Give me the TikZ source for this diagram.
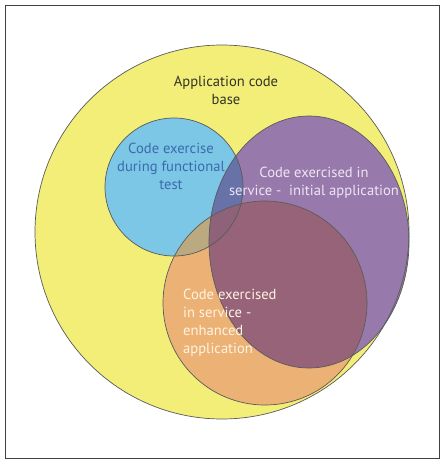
\documentclass[tikz,border=0pt]{standalone}
\usepackage{fontspec}
\setmainfont{PT Sans}
\definecolor{yellowc}{HTML}{F2EE78}
\definecolor{bluec}{HTML}{7CC6E6}
\definecolor{purplec}{HTML}{977AAB}
\definecolor{orangec}{HTML}{EBB175}
\definecolor{bpc}{HTML}{6672A8}
\definecolor{boc}{HTML}{BBAA80}
\definecolor{poc}{HTML}{966378}
\definecolor{bpoc}{HTML}{8E6379}
\definecolor{edgec}{HTML}{5A5A5A}
\definecolor{btext}{HTML}{3B6BAE}
\definecolor{ytext}{HTML}{333326}
\definecolor{ptext}{HTML}{EEE4F3}
\definecolor{otext}{HTML}{FFF4E2}
\begin{document}
\begin{tikzpicture}[x=1pt,y=-1pt,
  outline/.style={draw=edgec,line width=0.7pt},
  lbl/.style={font=\fontsize{14.6}{18}\selectfont,inner sep=0pt}]
\useasboundingbox (0,0) rectangle (445,464);
\def\yel{(222,232) circle[radius=187]}
\def\blu{(174,187) circle[radius=69]}
\def\pur{(309,242) ellipse[x radius=100,y radius=126]}
\def\ora{(265,303) circle[radius=102]}
\draw[draw=black!75,line width=1pt] (5,5) rectangle (439,458);
\fill[yellowc] \yel;
\fill[bluec] \blu;
\fill[purplec] \pur;
\fill[orangec] \ora;
\begin{scope}\clip \blu; \fill[bpc] \pur; \end{scope}
\begin{scope}\clip \blu; \fill[boc] \ora; \end{scope}
\begin{scope}\clip \pur; \fill[poc] \ora; \end{scope}
\begin{scope}\clip \blu; \clip \pur; \fill[bpoc] \ora; \end{scope}
\draw[outline] \yel;
\draw[outline] \blu;
\draw[outline] \pur;
\draw[outline] \ora;
\node[lbl,text=ytext,align=center] (base) at (226,90) {Application code\\base};
\node[lbl,text=btext,align=center] (func) at (171,166) {Code exercise\\during functional\\test};
\node[lbl,text=ptext,align=center] (init) at (314,183) {Code exercised in\\service -\ \ initial application};
\node[lbl,text=otext,align=left,anchor=west] (enh) at (183,323) {Code exercised\\in service -\\enhanced\\application};
\end{tikzpicture}
\end{document}
